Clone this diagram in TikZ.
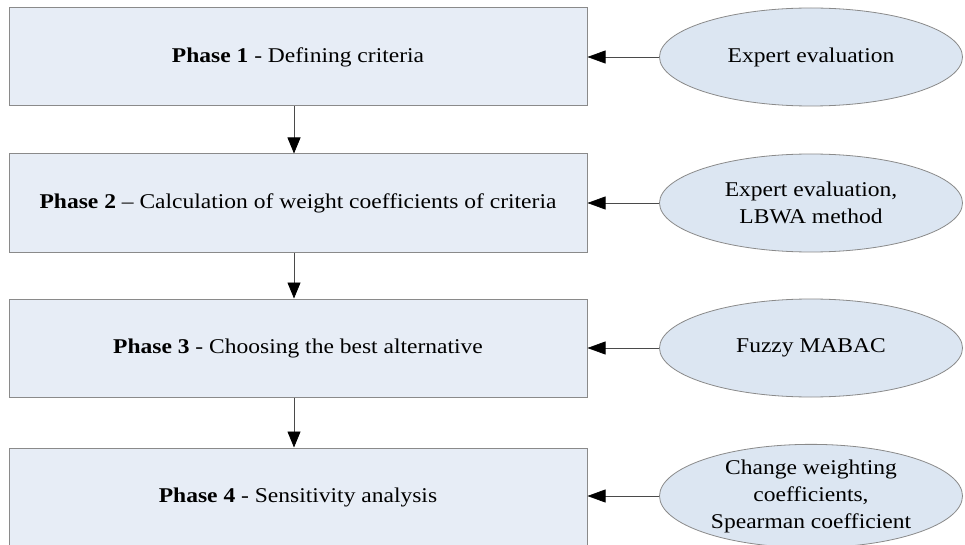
\documentclass[tikz,border=0pt]{standalone}
\usepackage{fontspec}
\setmainfont{Liberation Serif}[FakeStretch=1.12]
\usetikzlibrary{arrows.meta,shapes.geometric}
\definecolor{boxfill}{HTML}{E7EDF6}
\definecolor{ellfill}{HTML}{DCE6F2}
\definecolor{edge}{HTML}{8A8A8A}
\definecolor{wire}{HTML}{4A4A4A}
\tikzset{
  phasebox/.style={draw=edge, line width=1pt, fill=boxfill, rectangle,
    minimum width=578pt, minimum height=98pt, inner sep=0pt,
    font=\fontsize{21}{27}\selectfont},
  toolell/.style={draw=edge, line width=0.8pt, fill=ellfill, ellipse,
    minimum width=303pt, minimum height=98pt, inner sep=0pt, align=center,
    font=\fontsize{21}{27}\selectfont},
  flow/.style={draw=wire, line width=0.8pt,
    -{Triangle[length=16pt,width=13pt,color=black]}},
  feed/.style={draw=wire, line width=0.6pt,
    -{Triangle[length=18pt,width=13pt,color=black]}}
}
\begin{document}
\begin{tikzpicture}[x=1pt,y=-1pt]
  \useasboundingbox (0,0) rectangle (965,545);
  \clip (0,0) rectangle (965,545);
  \fill[white] (0,0) rectangle (965,545);

  % phases
  \node[phasebox] (p1) at (298,57)  {\textbf{Phase 1} - Defining criteria};
  \node[phasebox] (p2) at (298,203) {\textbf{Phase 2} -- Calculation of weight coefficients of criteria};
  \node[phasebox] (p3) at (298,348) {\textbf{Phase 3} - Choosing the best alternative};
  \node[phasebox] (p4) at (298,497) {\textbf{Phase 4} - Sensitivity analysis};

  % supporting methods
  \node[toolell] (e1) at (811,57)  {Expert evaluation};
  \node[toolell] (e2) at (811,203) {Expert evaluation,\\LBWA method};
  \node[toolell] (e3) at (811,348) {Fuzzy MABAC};
  \node[toolell] (e4) at (811,496) {Change weighting\\coefficients,\\Spearman coefficient};

  % sequence of phases
  \draw[flow] (p1.south -| 294,0) -- (p2.north -| 294,0);
  \draw[flow] (p2.south -| 294,0) -- (p3.north -| 294,0);
  \draw[flow] (p3.south -| 294,0) -- (p4.north -| 294,0);

  % inputs to each phase
  \draw[feed] (e1.west) -- (p1.east |- e1.west);
  \draw[feed] (e2.west) -- (p2.east |- e2.west);
  \draw[feed] (e3.west) -- (p3.east |- e3.west);
  \draw[feed] (e4.west) -- (p4.east |- e4.west);
\end{tikzpicture}
\end{document}
